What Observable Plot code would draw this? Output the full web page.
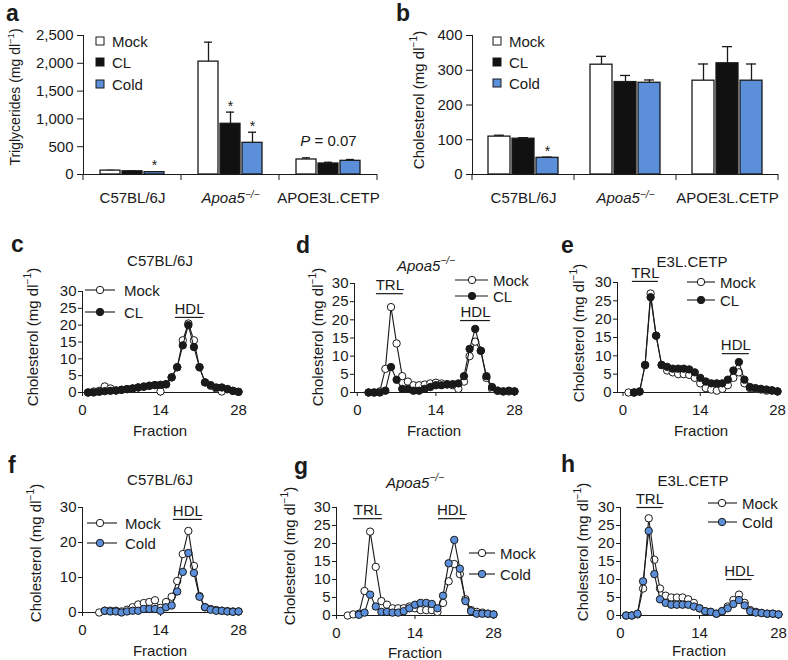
<!DOCTYPE html>
<html><head><meta charset="utf-8">
<script src="https://cdn.jsdelivr.net/npm/d3@7"></script>
<script src="https://cdn.jsdelivr.net/npm/@observablehq/plot@0.6"></script>
<style>
body{margin:0;background:#fff;}
#fig{position:relative;width:788px;height:660px;background:#fff;font-family:'Liberation Sans',Arial,Helvetica,sans-serif;color:#1a1a1a;}
.panel{position:absolute;}
#overlay{position:absolute;left:0;top:0;pointer-events:none;overflow:visible;}
</style></head><body><div id="fig"></div>
<script>
// ---------------- DATA ----------------
const strains = ["C57BL/6J", "Apoa5-/-", "APOE3L.CETP"];
const treatments = ["Mock", "CL", "Cold"];
const barColors = ["#ffffff", "#111111", "#5b8fd9"];

// Panel a: plasma triglycerides (mg/dl), per strain
const tgMock = [70, 2030, 270];
const tgCL = [58, 912, 198];
const tgCold = [42, 570, 246];
const tgMockSem = [5, 350, 30];
const tgCLSem = [4, 210, 22];
const tgColdSem = [4, 190, 24];
const tgSigMock = [false, false, false];
const tgSigCL = [false, true, false];
const tgSigCold = [true, true, false];
const tgTicks = [0, 500, 1000, 1500, 2000, 2500];
const tgNote = [{strain: "APOE3L.CETP", value: 600, label: "P = 0.07"}];

// Panel b: plasma cholesterol (mg/dl)
const chMock = [109, 316, 270];
const chCL = [103, 266, 320];
const chCold = [48, 264, 270];
const chMockSem = [4, 24, 48];
const chCLSem = [3, 19, 48];
const chColdSem = [2, 8, 48];
const chSigMock = [false, false, false];
const chSigCL = [false, false, false];
const chSigCold = [true, false, false];
const chTicks = [0, 100, 200, 300, 400];

// FPLC profiles: fractions 1..28, cholesterol (mg/dl)
const fractions = [1,2,3,4,5,6,7,8,9,10,11,12,13,14,15,16,17,18,19,20,21,22,23,24,25,26,27,28];
const fracTicks = [0, 14, 28];
const cMock = [0,0.3,0.5,1.8,1.2,0.6,0.8,1,1.2,1.5,1.8,2,2.2,0.3,2.5,4.5,7.5,15.5,20.5,15.5,7.5,3,2,1.2,0.3,1,0.5,0.2];
const cCL   = [0,0,0.2,0.4,0.5,0.6,0.8,1,1.2,1.5,1.7,2,2.2,2.3,2.4,4.5,7.5,14,20,13.5,7.5,3,2.2,1.5,1.5,1,0.5,0.2];
const dMock = [null,0,0,0.3,6.5,23.5,13.5,4.5,3,2,2,2.2,2.5,2.7,2.5,2.3,2,1,3,10,14,11.5,4,1,0.5,0.3,0.3,0.3];
const dCL   = [null,0,0,0,0.5,7,3.5,1,1,0.5,0.5,1,1.5,2,2,2.2,2.3,2.5,4.5,12,17.5,11.5,4.5,1.5,0.5,0.3,0.5,0.3];
const eMock = [0,0,0.2,7.5,27,15.5,7.5,6,5.5,5,5,4.8,4,2.5,1.2,0.8,0.5,1,2,4,5.5,2.5,1.2,1,0.8,0.5,0.5,0.3];
const eCL   = [null,0,0.3,7.5,26,15.5,7.5,7,6.5,6.5,6.5,6.3,5.5,4,3,2.5,2.5,2.5,3.5,6,8.3,3.5,1.5,1.2,1,0.8,0.6,0.3];
const fMock = [null,null,0,0.5,0.5,0.5,0.3,0.8,1.5,2.3,2.7,3,3.5,1.3,3,4.5,9,16.7,23.3,13.3,4.7,1.5,1,0.7,0.5,0.4,0.3,0.3];
const fCold = [null,null,null,0.5,0.3,0.3,0,0.3,0.5,0.5,1,1,1,0.5,1.5,2,6,11.6,17,11.3,4.5,1.5,0.8,0.5,0.5,0.3,0.2,0.3];
const gMock = [null,0,0.3,0.5,6.8,23.3,13.5,4,3,2,2,2,2.5,2,1.5,1.5,1.5,1,3.5,9.5,14.3,11.5,4.5,1.5,1,0.8,0.5,0.3];
const gCold = [null,null,null,0.2,0.8,5.8,2.5,1,1,0.8,0.8,1.2,2,3,3.5,3.5,3.2,2,5.5,14.5,21,13,4,1.2,0.5,0.5,0.5,0.3];
const hMock = [0,0,0.3,7.5,27,15.5,7.5,5.5,5,5,5,4.5,3.5,2,1.2,1,0.5,1.2,2.5,4.3,5.8,3.5,1.5,1,0.7,0.5,0.5,0.3];
const hCold = [0,0,0.5,9.5,23.5,11.5,4.5,3.5,3,3,3,3,2.5,2,1.2,1,0.5,1.2,2,3.2,4.3,2.8,1.2,0.8,0.7,0.5,0.5,0.3];

// Lipoprotein fraction ranges (annotations)
const cAnn = [{label: "HDL", from: 16.7, to: 21.7, y: 22.3}];
const dAnn = [{label: "TRL", from: 3.4, to: 8.2, y: 27.2}, {label: "HDL", from: 18.4, to: 23.7, y: 19.8}];
const eAnn = [{label: "TRL", from: 1.7, to: 6.4, y: 30.3}, {label: "HDL", from: 18.0, to: 22.9, y: 10.6}];
const fAnn = [{label: "HDL", from: 16.3, to: 21.5, y: 26.6}];
const gAnn = [{label: "TRL", from: 3.0, to: 8.2, y: 26.9}, {label: "HDL", from: 18.2, to: 23.0, y: 26.9}];
const hAnn = [{label: "TRL", from: 2.9, to: 7.5, y: 30.0}, {label: "HDL", from: 18.8, to: 23.3, y: 10.0}];

// ---------------- RENDER ----------------
const FONT = "'Liberation Sans', Arial, Helvetica, sans-serif";
const INK = "#1a1a1a";
const BLUE = "#5b8fd9";
const fig = d3.select("#fig");

function place(node, left, top) {
  const div = fig.append("div").attr("class", "panel").style("left", left + "px").style("top", top + "px");
  div.node().appendChild(node);
}

function richText(sel, parts, size) {
  parts.forEach(p => {
    const ts = sel.append("tspan").text(p.t);
    if (p.i) ts.attr("font-style", "italic");
    if (p.sup) ts.attr("font-size", (size * 0.68) + "px").attr("dy", (-size * 0.36) + "px");
    if (p.back) ts.attr("dy", (size * 0.36) + "px");
  });
}

function rewriteText(svg, match, parts, size) {
  d3.select(svg).selectAll("text").filter(function () { return this.textContent === match; })
    .each(function () { const t = d3.select(this); t.text(""); richText(t, parts, size); });
}

function barPanel(cfg) {
  const data = [];
  strains.forEach((s, i) => treatments.forEach((t, j) => {
    data.push({strain: s, treatment: t, value: cfg.means[j][i], upper: cfg.means[j][i] + cfg.sems[j][i], sig: cfg.sig[j][i]});
  }));
  const plot = Plot.plot({
    width: cfg.w, height: cfg.h,
    marginLeft: cfg.ml, marginRight: cfg.mr, marginTop: cfg.mt, marginBottom: cfg.mb,
    style: {fontSize: "15px", fontFamily: FONT, color: INK, background: "transparent", overflow: "visible"},
    fx: {domain: strains, padding: 0, axis: "bottom", label: null, tickSize: 0, tickPadding: 18},
    x: {domain: treatments, paddingInner: 0.08, paddingOuter: cfg.po, axis: null},
    y: {domain: cfg.yDomain, ticks: cfg.yTicks, tickFormat: d3.format(","), tickSize: 6, tickPadding: 4, line: true, label: null},
    color: {domain: treatments, range: barColors},
    marks: [
      Plot.ruleX(data, {fx: "strain", x: "treatment", y1: "value", y2: "upper", stroke: INK, strokeWidth: 1.3}),
      Plot.tickY(data, {fx: "strain", x: "treatment", y: "upper", stroke: INK, strokeWidth: 1.3, insetLeft: 6, insetRight: 6}),
      Plot.barY(data, {fx: "strain", x: "treatment", y: "value", fill: "treatment", stroke: INK, strokeWidth: 1.3}),
      Plot.text(data.filter(d => d.sig), {fx: "strain", x: "treatment", y: "upper", text: () => "*", dy: -6, fontSize: 14}),
      Plot.text(cfg.notes || [], {fx: "strain", y: "value", text: "label", fontSize: 15}),
      Plot.ruleY([0], {stroke: INK, strokeWidth: 1})
    ]
  });
  // category boundary ticks
  const fx = plot.scale("fx"), y = plot.scale("y");
  const y0 = y.apply(0);
  const edges = fx.domain.map(d => fx.apply(d)).concat([fx.apply(fx.domain[fx.domain.length - 1]) + fx.bandwidth]);
  const g = d3.select(plot).append("g").attr("stroke", INK).attr("stroke-width", 1);
  edges.forEach(e => g.append("line").attr("x1", e).attr("x2", e).attr("y1", y0).attr("y2", y0 + 6));
  rewriteText(plot, "Apoa5-/-", [{t: "Apoa5", i: true}, {t: "\u2212/\u2212", i: true, sup: true}], 15);
  rewriteText(plot, "P = 0.07", [{t: "P", i: true}, {t: " = 0.07"}], 15);
  place(plot, cfg.left, cfg.top);
}

function series(vals) {
  return fractions.map((f, i) => ({fraction: f, value: vals[i]})).filter(d => d.value != null);
}

function profilePanel(cfg) {
  const mock = series(cfg.mock), trt = series(cfg.trt);
  const plot = Plot.plot({
    width: cfg.w, height: cfg.h,
    marginLeft: cfg.ml, marginRight: cfg.mr, marginTop: cfg.mt, marginBottom: cfg.mb,
    style: {fontSize: "15px", fontFamily: FONT, color: INK, background: "transparent", overflow: "visible"},
    x: {domain: cfg.xDomain, ticks: fracTicks, tickSize: 4, tickPadding: 8, line: true, label: null},
    y: {domain: [0, 30], ticks: cfg.yTicks, tickSize: 4, tickPadding: 2, line: true, label: null},
    marks: [
      Plot.line(mock, {x: "fraction", y: "value", stroke: INK, strokeWidth: 1.1}),
      Plot.dot(mock, {x: "fraction", y: "value", r: 3.7, fill: "#ffffff", stroke: INK, strokeWidth: 1}),
      Plot.line(trt, {x: "fraction", y: "value", stroke: INK, strokeWidth: 1.1}),
      Plot.dot(trt, {x: "fraction", y: "value", r: 3.7, fill: cfg.color, stroke: INK, strokeWidth: 1}),
      Plot.ruleY(cfg.ann, {x1: "from", x2: "to", y: "y", stroke: INK, strokeWidth: 1.2}),
      Plot.text(cfg.ann, {x: d => (d.from + d.to) / 2, y: "y", text: "label", dy: -8, fontSize: 15})
    ]
  });
  place(plot, cfg.left, cfg.top);
}

barPanel({left: 0, top: 20, w: 394, h: 190, ml: 82, mr: 16, mt: 15, mb: 36, po: 0.70,
  means: [tgMock, tgCL, tgCold], sems: [tgMockSem, tgCLSem, tgColdSem], sig: [tgSigMock, tgSigCL, tgSigCold],
  yDomain: [0, 2500], yTicks: tgTicks, notes: tgNote});
barPanel({left: 394, top: 20, w: 394, h: 190, ml: 78, mr: 10, mt: 15, mb: 36, po: 0.60,
  means: [chMock, chCL, chCold], sems: [chMockSem, chCLSem, chColdSem], sig: [chSigMock, chSigCL, chSigCold],
  yDomain: [0, 400], yTicks: chTicks});

const t5 = [0, 5, 10, 15, 20, 25, 30], t10 = [0, 10, 20, 30];
profilePanel({left: 0, top: 270, w: 262, h: 175, ml: 82, mr: 24, mt: 21, mb: 53, xDomain: [0, 28], yTicks: t5, mock: cMock, trt: cCL, color: INK, ann: cAnn});
profilePanel({left: 262, top: 270, w: 262, h: 175, ml: 92, mr: 10, mt: 13, mb: 53, xDomain: [-0.5, 28], yTicks: t5, mock: dMock, trt: dCL, color: INK, ann: dAnn});
profilePanel({left: 524, top: 270, w: 264, h: 175, ml: 93, mr: 11, mt: 12, mb: 53, xDomain: [-1, 28], yTicks: t5, mock: eMock, trt: eCL, color: INK, ann: eAnn});
profilePanel({left: 0, top: 490, w: 262, h: 170, ml: 82, mr: 24, mt: 17, mb: 48, xDomain: [0, 28], yTicks: t10, mock: fMock, trt: fCold, color: BLUE, ann: fAnn});
profilePanel({left: 262, top: 490, w: 262, h: 170, ml: 74, mr: 31, mt: 17, mb: 45, xDomain: [0, 28], yTicks: t5, mock: gMock, trt: gCold, color: BLUE, ann: gAnn});
profilePanel({left: 524, top: 490, w: 264, h: 170, ml: 96, mr: 10, mt: 17, mb: 45, xDomain: [0, 28], yTicks: t5, mock: hMock, trt: hCold, color: BLUE, ann: hAnn});

// ---------------- OVERLAY TEXT / LEGENDS ----------------
const ov = fig.append("svg").attr("id", "overlay").attr("width", 788).attr("height", 660)
  .attr("font-family", FONT).attr("fill", INK);

function label(x, y, parts, size, opts = {}) {
  const t = ov.append("text").attr("x", x).attr("y", y).attr("font-size", size + "px")
    .attr("text-anchor", opts.anchor || "middle").attr("dominant-baseline", opts.baseline || "central");
  if (opts.bold) t.attr("font-weight", "bold");
  if (opts.rotate) t.attr("transform", `rotate(-90 ${x} ${y})`);
  richText(t, typeof parts === "string" ? [{t: parts}] : parts, size);
  return t;
}

// panel letters
[["a", 6, 21], ["b", 396, 21], ["c", 11, 252], ["d", 296, 253], ["e", 561, 253], ["f", 8, 473], ["g", 294, 474], ["h", 561, 472]]
  .forEach(([l, x, y]) => label(x, y, l, 23, {bold: true, anchor: "start", baseline: "auto"}));

// y-axis labels
const mgdl = name => [{t: name + " (mg dl"}, {t: "\u22121", sup: true}, {t: ")", back: true}];
label(15, 97, mgdl("Triglycerides"), 14, {rotate: true});
label(418, 100, mgdl("Cholesterol"), 15, {rotate: true});
[[32, 337], [317, 337], [578, 333], [35, 553], [289, 556], [582, 552]]
  .forEach(([x, y]) => label(x, y, mgdl("Cholesterol"), 15, {rotate: true}));

// x-axis labels
[[160, 430], [434, 430], [701, 430], [160, 650], [415, 652], [699, 650]]
  .forEach(([x, y]) => label(x, y, "Fraction", 15));

// panel titles
const apoa5 = [{t: "Apoa5", i: true}, {t: "\u2212/\u2212", i: true, sup: true}];
label(160, 260, "C57BL/6J", 15);
label(426, 265, apoa5, 15);
label(692, 261, "E3L.CETP", 15);
label(160, 479, "C57BL/6J", 15);
label(415, 482, apoa5, 15);
label(693, 480, "E3L.CETP", 15);

// bar legends
function squareLegend(cx, tx, rows) {
  treatments.forEach((t, i) => {
    ov.append("rect").attr("x", cx - 4).attr("y", rows[i] - 4).attr("width", 8).attr("height", 8)
      .attr("fill", barColors[i]).attr("stroke", INK).attr("stroke-width", 1);
    label(tx, rows[i], t, 15, {anchor: "start"});
  });
}
squareLegend(100, 112, [41, 62, 84]);
squareLegend(497, 509, [41, 62, 83]);

// line legends
function lineLegend(x1, x2, cx, tx, rows, entries) {
  entries.forEach((e, i) => {
    ov.append("line").attr("x1", x1).attr("x2", x2).attr("y1", rows[i]).attr("y2", rows[i]).attr("stroke", INK).attr("stroke-width", 1.1);
    ov.append("circle").attr("cx", cx).attr("cy", rows[i]).attr("r", 3.7).attr("fill", e[1]).attr("stroke", INK).attr("stroke-width", 1);
    label(tx, rows[i], e[0], 15, {anchor: "start"});
  });
}
const mockCL = [["Mock", "#ffffff"], ["CL", INK]];
const mockCold = [["Mock", "#ffffff"], ["Cold", BLUE]];
lineLegend(85, 115, 100, 124, [290, 312], mockCL);
lineLegend(455, 488, 472, 493, [280, 296], mockCL);
lineLegend(687, 715, 701, 720, [282, 300], mockCL);
lineLegend(87, 117, 100, 125, [523, 543], mockCold);
lineLegend(469, 495, 482, 500, [553, 574], mockCold);
lineLegend(708, 737, 722, 742, [503, 522], mockCold);
</script></body></html>
